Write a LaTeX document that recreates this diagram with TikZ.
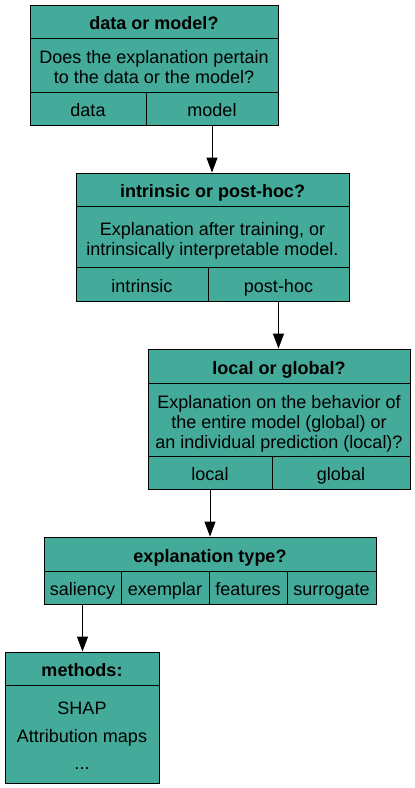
\documentclass[tikz,border=0pt]{standalone}
\usepackage{fontspec}
\setmainfont{Liberation Sans}
\usetikzlibrary{arrows.meta}
\definecolor{tolteal}{HTML}{44AA99}
\tikzstyle{cell} = [rectangle, draw=black, line width=0.9pt, fill=tolteal, inner sep=0pt, text height=16pt, text depth=0pt, font=\fontsize{18}{20}\selectfont]
\tikzstyle{head} = [cell, minimum height=33pt, font=\fontsize{18}{20}\selectfont\bfseries]
\tikzstyle{opt} = [cell, minimum height=33pt]
\tikzstyle{item} = [anchor=base, inner sep=0pt, font=\fontsize{18}{20}\selectfont]
\tikzstyle{arrow} = [line width=0.9pt, -{Triangle[length=15pt,width=11pt]}]
\begin{document}
\begin{tikzpicture}[x=1pt,y=1pt]
\useasboundingbox (0,0) rectangle (415,-788);
% data or model
\draw (154,-21.5) node (title1) [head, minimum width=248pt] {data or model?};
\draw (154,-65) node (desc1) [cell, minimum width=248pt, minimum height=54pt] {};
\draw (154,-63.5) node (desc1a) [item] {Does the explanation pertain};
\draw (154,-83.5) node (desc1b) [item] {to the data or the model?};
\draw (88,-108.5) node (data) [opt, minimum width=116pt] {data};
\draw (212,-108.5) node (model) [opt, minimum width=132pt] {model};
% intrinsic or post-hoc
\draw (212.5,-189.5) node (title2) [head, minimum width=273pt] {intrinsic or post-hoc?};
\draw (212.5,-236.5) node (desc2) [cell, minimum width=273pt, minimum height=61pt] {};
\draw (212.5,-235.7) node (desc2a) [item] {Explanation after training, or};
\draw (212.5,-255.7) node (desc2b) [item] {intrinsically interpretable model.};
\draw (142,-284) node (intrinsic) [opt, minimum width=132pt, minimum height=34pt] {intrinsic};
\draw (278.5,-284) node (posthoc) [opt, minimum width=141pt, minimum height=34pt] {post-hoc};
% local or global
\draw (279,-366) node (title3) [head, minimum width=262pt, minimum height=34pt] {local or global?};
\draw (279,-419.5) node (desc3) [cell, minimum width=262pt, minimum height=73pt] {};
\draw (279,-408.3) node (desc3a) [item] {Explanation on the behavior of};
\draw (279,-428.3) node (desc3b) [item] {the entire model (global) or};
\draw (279,-448.3) node (desc3c) [item] {an individual prediction (local)?};
\draw (210,-472.5) node (local) [opt, minimum width=124pt] {local};
\draw (341,-472.5) node (global) [opt, minimum width=138pt] {global};
% explanation type
\draw (210,-554) node (title4) [head, minimum width=332pt, minimum height=34pt] {explanation type?};
\draw (82.5,-587.5) node (saliency) [opt, minimum width=77pt] {saliency};
\draw (165,-587.5) node (exemplar) [opt, minimum width=88pt] {exemplar};
\draw (248,-587.5) node (features) [opt, minimum width=78pt] {features};
\draw (331.5,-587.5) node (surrogate) [opt, minimum width=89pt] {surrogate};
% methods
\draw (82,-668.5) node (title5) [head, minimum width=154pt] {methods:};
\draw (82,-734) node (list5) [cell, minimum width=154pt, minimum height=98pt] {};
\draw (82,-714) node (shap) [item] {SHAP};
\draw (82,-742) node (attrmaps) [item] {Attribution maps};
\draw (82,-769) node (etc) [item] {...};
%
\draw [arrow] (model.south) -- (model.south |- title2.north);
\draw [arrow] (posthoc.south) -- (posthoc.south |- title3.north);
\draw [arrow] (local.south) -- (local.south |- title4.north);
\draw [arrow] (saliency.south) -- (saliency.south |- title5.north);
\end{tikzpicture}
\end{document}
